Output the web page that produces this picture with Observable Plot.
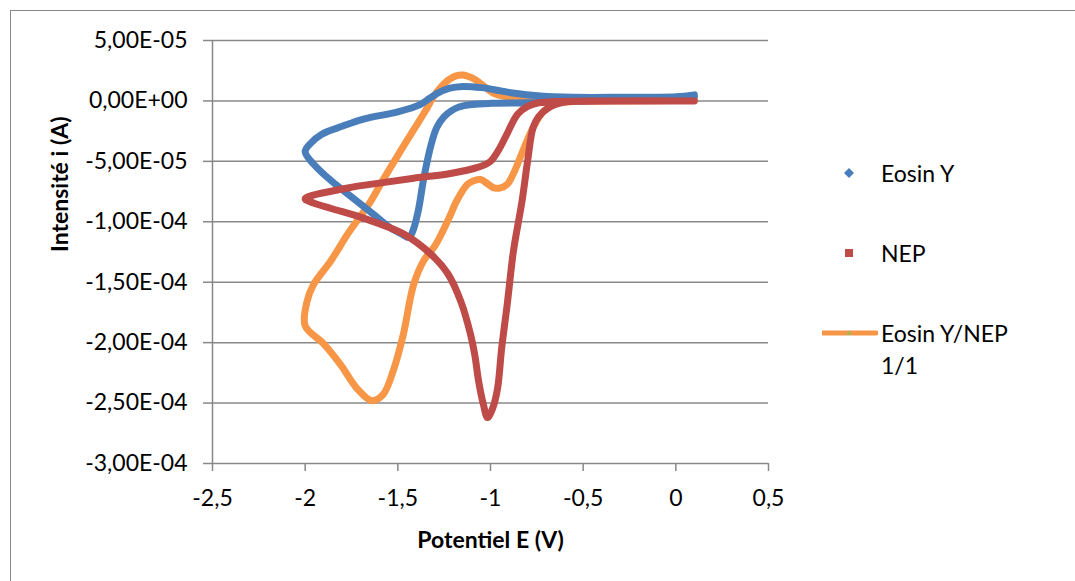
<!DOCTYPE html>
<html>
<head>
<meta charset="utf-8">
<script src="https://cdn.jsdelivr.net/npm/d3@7"></script>
<script src="https://cdn.jsdelivr.net/npm/@observablehq/plot@0.6"></script>
<style>
  html, body { margin: 0; padding: 0; background: #fff; }
  #wrap { position: relative; width: 1075px; height: 581px; overflow: hidden; font-family: Lato, "Open Sans", sans-serif; }
  #border { position: absolute; left: 10px; top: 10px; width: 1200px; height: 700px; border-left: 1.5px solid #888; border-top: 1.5px solid #888; box-sizing: border-box; }
  #chart { position: absolute; left: 0; top: 0; }
  .leg { position: absolute; font-size: 23px; color: #000; line-height: 32px; white-space: nowrap; }
  .mk { position: absolute; }
</style>
</head>
<body>
<div id="wrap">
  <div id="border"></div>
  <div id="chart"></div>
</div>
<script>
// ---- Data (E in V, I in A) ----
const seriesNames = ["Eosin Y", "NEP", "Eosin Y/NEP 1/1"];
const seriesColors = ["#4A7EBB", "#BE4B48", "#F79646"];

const eosinE = [0.1, 0.0, -0.2, -0.4, -0.6, -0.8, -1.0, -1.1, -1.17, -1.21, -1.25, -1.29, -1.32, -1.36, -1.39, -1.42, -1.44, -1.48, -1.54, -1.63, -1.77, -1.86, -1.95, -2.0,
  -1.97, -1.91, -1.8, -1.685, -1.5, -1.38, -1.33, -1.29, -1.22, -1.15, -1.05, -0.95, -0.88, -0.73, -0.55, -0.3, 0.0, 0.1];
const eosinI = [0.4e-5, 0.2e-5, 0.1e-5, 0.05e-5, -0.05e-5, -0.15e-5, -0.2e-5, -0.3e-5, -0.5e-5, -0.8e-5, -1.3e-5, -2.2e-5, -3.6e-5, -6.4e-5, -9.1e-5, -10.8e-5, -11.3e-5, -11.0e-5, -10.5e-5, -9.4e-5, -7.7e-5, -6.6e-5, -5.3e-5, -4.2e-5,
  -3.5e-5, -2.75e-5, -2.1e-5, -1.5e-5, -0.9e-5, -0.3e-5, 0.2e-5, 0.6e-5, 1.05e-5, 1.2e-5, 1.1e-5, 0.85e-5, 0.65e-5, 0.4e-5, 0.3e-5, 0.3e-5, 0.35e-5, 0.5e-5];

const nepE = [0.1, -0.2, -0.5, -0.6, -0.69, -0.74, -0.77, -0.8, -0.83, -0.876, -0.908, -0.94, -0.962, -0.99, -1.016, -1.04, -1.064, -1.085, -1.108, -1.16, -1.23, -1.32, -1.47, -1.685, -1.86, -1.955, -2.0,
  -1.77, -1.6, -1.415, -1.216, -1.07, -1.0, -0.95, -0.91, -0.854, -0.8, -0.74, -0.65, -0.4, 0.1];
const nepI = [0, 0, -0.02e-5, -0.1e-5, -0.6e-5, -1.3e-5, -2.2e-5, -5.0e-5, -8.3e-5, -12.4e-5, -16.6e-5, -20.5e-5, -23.8e-5, -25.5e-5, -26.2e-5, -25.0e-5, -23.2e-5, -21.0e-5, -19.3e-5, -16.6e-5, -14.3e-5, -12.7e-5, -11.0e-5, -9.7e-5, -8.9e-5, -8.45e-5, -8.1e-5,
  -7.2e-5, -6.8e-5, -6.4e-5, -6.0e-5, -5.5e-5, -5.0e-5, -3.9e-5, -2.7e-5, -1.1e-5, -0.45e-5, -0.15e-5, -0.05e-5, 0, 0];

const mixE = [0.1, -0.3, -0.55, -0.65, -0.71, -0.77, -0.84, -0.876, -0.91, -0.946, -0.98, -1.054, -1.09, -1.124, -1.18, -1.23, -1.3, -1.36, -1.415, -1.47, -1.52, -1.58, -1.64, -1.72, -1.81, -1.9, -2.0,
  -1.99, -1.955, -1.86, -1.77, -1.65, -1.59, -1.5, -1.415, -1.35, -1.31, -1.27, -1.23, -1.19, -1.15, -1.1, -1.05, -0.98, -0.9, -0.8, -0.5, 0.1];
const mixI = [0.05e-5, 0, -0.05e-5, -0.25e-5, -0.8e-5, -2.2e-5, -4.7e-5, -6.0e-5, -6.9e-5, -7.2e-5, -7.2e-5, -6.5e-5, -6.6e-5, -6.9e-5, -8.2e-5, -9.9e-5, -12.0e-5, -13.2e-5, -15.2e-5, -19.3e-5, -22.1e-5, -24.3e-5, -24.8e-5, -23.8e-5, -21.8e-5, -20.1e-5, -18.6e-5,
  -16.6e-5, -15.2e-5, -13.2e-5, -11.0e-5, -8.4e-5, -6.8e-5, -4.5e-5, -2.4e-5, -0.8e-5, 0.3e-5, 1.1e-5, 1.7e-5, 2.05e-5, 2.15e-5, 1.9e-5, 1.4e-5, 0.6e-5, 0.3e-5, 0.2e-5, 0.1e-5, 0.15e-5];

const xTicks = [-2.5, -2, -1.5, -1, -0.5, 0, 0.5];
const xTickLabels = ["-2,5", "-2", "-1,5", "-1", "-0,5", "0", "0,5"];
const yTicks = [5e-5, 0, -5e-5, -1e-4, -1.5e-4, -2e-4, -2.5e-4, -3e-4];
const yTickLabels = ["5,00E-05", "0,00E+00", "-5,00E-05", "-1,00E-04", "-1,50E-04", "-2,00E-04", "-2,50E-04", "-3,00E-04"];
const xLabel = "Potentiel E (V)";
const yLabel = "Intensité i (A)";

// ---- build tables ----
const toRows = (E, I) => E.map((e, k) => ({E: e, I: I[k]}));
const eosin = toRows(eosinE, eosinI);
const nep = toRows(nepE, nepI);
const mix = toRows(mixE, mixI);

const font = "Lato, 'Open Sans', sans-serif";
const gridColor = "#888888";
const lineStyle = {x: "E", y: "I", strokeWidth: 7, curve: "catmull-rom", strokeLinejoin: "round", strokeLinecap: "round"};

const chart = Plot.plot({
  width: 1075,
  height: 581,
  marginLeft: 212,
  marginRight: 307,
  marginTop: 40,
  marginBottom: 118,
  style: {fontFamily: font, background: "transparent", overflow: "visible"},
  x: {domain: [-2.5, 0.5]},
  y: {domain: [-3e-4, 5e-5]},
  marks: [
    Plot.ruleY(yTicks, {stroke: gridColor, strokeWidth: 1.5}),
    Plot.ruleX([-2.5], {stroke: gridColor, strokeWidth: 1.5}),
    Plot.axisY(yTicks, {
      tickFormat: (d, i) => yTickLabels[i], tickSize: 9, tickPadding: 16,
      stroke: gridColor, strokeWidth: 1.5, fill: "#000", fontSize: 23, label: null
    }),
    Plot.axisX(xTicks, {
      tickFormat: (d, i) => xTickLabels[i], tickSize: 8, tickPadding: 18,
      stroke: gridColor, strokeWidth: 1.5, fill: "#000", fontSize: 23, label: null
    }),
    Plot.line(mix, {...lineStyle, stroke: seriesColors[2]}),
    Plot.line(eosin, {...lineStyle, stroke: seriesColors[0]}),
    Plot.line(nep, {...lineStyle, stroke: seriesColors[1]}),
    Plot.text([xLabel], {frameAnchor: "bottom", dy: 77, fontSize: 23, fontWeight: "bold", fill: "#000", lineAnchor: "middle"}),
    Plot.text([yLabel], {frameAnchor: "left", dx: -152, rotate: -90, fontSize: 23, fontWeight: "bold", fill: "#000", lineAnchor: "middle"})
  ]
});
document.getElementById("chart").appendChild(chart);

// ---- legend ----
const wrap = document.getElementById("wrap");
function addText(txt, left, centerY) {
  const d = document.createElement("div");
  d.className = "leg";
  d.style.left = left + "px";
  d.style.top = (centerY - 16) + "px";
  d.textContent = txt;
  wrap.appendChild(d);
}
function addSvg(html, left, top, w, h) {
  const s = document.createElementNS("http://www.w3.org/2000/svg", "svg");
  s.setAttribute("width", w); s.setAttribute("height", h);
  s.setAttribute("class", "mk");
  s.style.left = left + "px"; s.style.top = top + "px";
  s.innerHTML = html;
  wrap.appendChild(s);
}
// Eosin Y: diamond
addSvg(`<path d="M5,0 L10,5 L5,10 L0,5 Z" fill="${seriesColors[0]}"/>`, 844, 168, 10, 10);
addText(seriesNames[0], 881, 173);
// NEP: square
addSvg(`<rect x="0" y="0" width="8" height="8" fill="${seriesColors[1]}"/>`, 845, 249, 8, 8);
addText(seriesNames[1], 881, 253);
// Eosin Y/NEP 1/1: line with triangle
addSvg(`<line x1="1" y1="5" x2="54" y2="5" stroke="${seriesColors[2]}" stroke-width="5" stroke-linecap="round"/><path d="M27,2 L30,7 L24,7 Z" fill="#9BBB59" opacity="0.8"/>`, 822, 328, 56, 10);
addText("Eosin Y/NEP", 881, 333);
addText("1/1", 881, 365);
</script>
</body>
</html>
